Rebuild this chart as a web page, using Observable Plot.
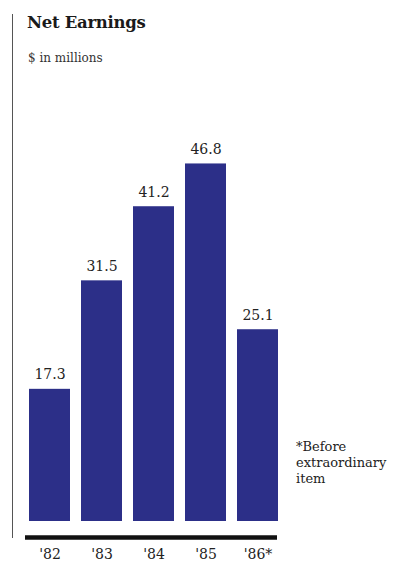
<!DOCTYPE html>
<html>
<head>
<meta charset="utf-8">
<script src="https://cdn.jsdelivr.net/npm/d3@7"></script>
<script src="https://cdn.jsdelivr.net/npm/@observablehq/plot@0.6"></script>
<style>
  html, body { margin: 0; padding: 0; background: #fff; }
  #wrap { position: relative; width: 406px; height: 565px; overflow: hidden; font-family: "DejaVu Serif", "Liberation Serif", serif; color: #1a1a1a; }
  #vline { position: absolute; left: 12px; top: 14px; width: 1px; height: 524px; background: #555; }
  #title { position: absolute; left: 27px; top: 13px; font-size: 16.5px; font-weight: bold; letter-spacing: -0.3px; }
  #subtitle { position: absolute; left: 28px; top: 51px; font-size: 12px; color: #333; }
  #note { position: absolute; left: 296px; top: 439px; font-size: 13px; line-height: 16px; color: #222; }
  #chart { position: absolute; left: 0; top: 0; }
</style>
</head>
<body>
<div id="wrap">
  <div id="chart"></div>
  <div id="vline"></div>
  <div id="title">Net Earnings</div>
  <div id="subtitle">$ in millions</div>
  <div id="note">*Before<br>extraordinary<br>item</div>
</div>
<script>
const years = ["'82", "'83", "'84", "'85", "'86*"];
const earnings = [17.3, 31.5, 41.2, 46.8, 25.1];
const labels = ["17.3", "31.5", "41.2", "46.8", "25.1"];

const data = years.map((y, i) => ({year: y, value: earnings[i], label: labels[i]}));

const chart = Plot.plot({
  width: 406,
  height: 565,
  marginTop: 139,
  marginBottom: 44,
  marginLeft: 15,
  marginRight: 115,
  style: {background: "transparent", fontFamily: "'DejaVu Serif', 'Liberation Serif', serif"},
  x: {domain: years, padding: 0.22, label: null},
  y: {domain: [0, 50], axis: null},
  marks: [
    Plot.barY(data, {x: "year", y: "value", fill: "#2c2f88"}),
    Plot.text(data, {x: "year", y: "value", text: "label", lineAnchor: "bottom", dy: -10, fontSize: 14, fill: "#222"}),
    Plot.ruleY([0], {dy: 16, strokeWidth: 4.5, stroke: "#111", insetLeft: 10, insetRight: 14}),
    Plot.axisX({tickSize: 0, tickPadding: 28, fontSize: 14, fill: "#222", label: null})
  ]
});
document.getElementById("chart").appendChild(chart);
</script>
</body>
</html>
